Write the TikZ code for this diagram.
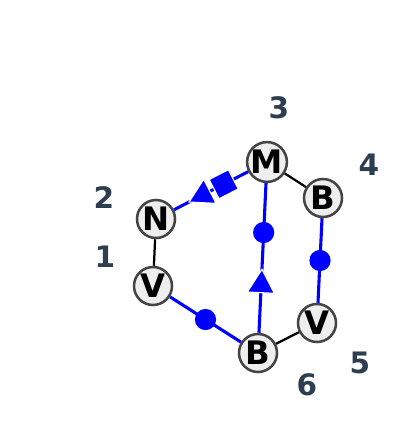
\documentclass[tikz,border=0pt]{standalone}
\usepackage{fontspec}
\setmainfont{DejaVu Sans}
\usetikzlibrary{shapes}
\definecolor{numcol}{HTML}{2C3E50}
\definecolor{fillgray}{HTML}{EEEEEE}
\definecolor{rimgray}{HTML}{444444}
\tikzstyle{atom} = [circle, draw=rimgray, fill=fillgray, line width=1.8pt,
    minimum size=0.95cm, inner sep=0pt, font=\bfseries\fontsize{23}{23}\selectfont]
\tikzstyle{num} = [text=numcol, font=\bfseries\fontsize{21}{21}\selectfont]
\tikzstyle{bond} = [draw, black, line width=1.6pt]
\tikzstyle{link} = [draw, blue, line width=2.2pt]
\tikzstyle{dot} = [circle, fill=blue, minimum size=0.53cm, inner sep=0pt]
\tikzstyle{tri} = [regular polygon, regular polygon sides=3, fill=blue, draw=white,
    line width=0.8pt, minimum size=0.78cm, inner sep=0pt, sloped, allow upside down, rotate=-90]
\tikzstyle{box} = [rectangle, fill=blue, draw=white, line width=0.8pt,
    minimum size=0.54cm, inner sep=0pt, sloped, allow upside down]

\begin{document}
\begin{tikzpicture}[x=0.025cm, y=-0.025cm]
	\useasboundingbox (0,0) rectangle (400,440);

		\node [atom] (v1) at (153,286) {V};
		\node [atom] (n2) at (156,219) {N};
		\node [atom] (m3) at (267,162) {M};
		\node [atom] (b4) at (323,198) {B};
		\node [atom] (v5) at (317,323) {V};
		\node [atom] (b6) at (258,353) {B};

		\node [num] (l1) at (105,257) {1};
		\node [num] (l2) at (104,198) {2};
		\node [num] (l3) at (279,108) {3};
		\node [num] (l4) at (369,165) {4};
		\node [num] (l5) at (360,363) {5};
		\node [num] (l6) at (307,385) {6};

		\path [bond] (v1) -- (n2);
		\path [link] (m3) -- node[box, pos=0.33] {} node[tri, pos=0.61] {} (n2);
		\path [bond] (m3) -- (b4);
		\path [link] (b4) -- node[dot] {} (v5);
		\path [bond] (v5) -- (b6);
		\path [link] (b6) -- node[dot] {} (v1);
		\path [link] (b6) -- node[tri, pos=0.32] {} node[dot, pos=0.67] {} (m3);
	\end{tikzpicture}
\end{document}
